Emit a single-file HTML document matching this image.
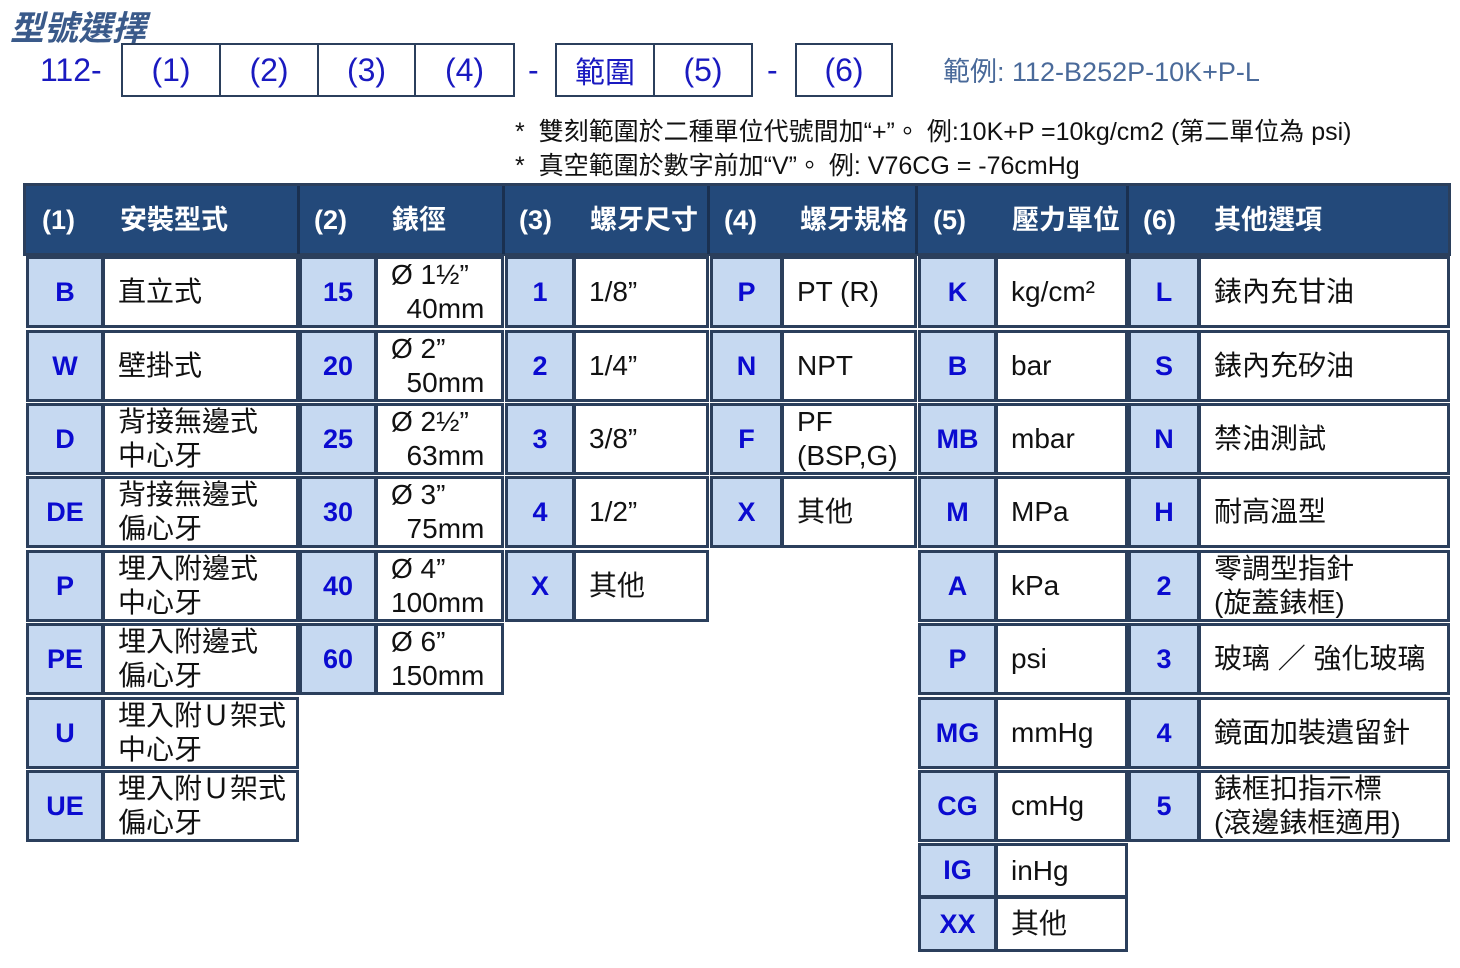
<!DOCTYPE html>
<html><head><meta charset="utf-8"><style>
body{margin:0;width:1460px;height:968px;background:#fff;position:relative;overflow:hidden;font-family:"Liberation Sans","Noto Sans CJK TC",sans-serif}
div{position:absolute;box-sizing:border-box}
.c{background:#c6d9f1;border:3px solid #2b3f5c;color:#0b0bd0;font-weight:bold;font-size:27px;display:flex;align-items:center;justify-content:center;height:72px}
.d{background:#fff;border:3px solid #2b3f5c;color:#111;font-size:28px;display:flex;align-items:center;padding-left:13px;line-height:34px;height:72px;white-space:nowrap}
.h{color:#fff;font-weight:bold;font-size:27px;top:186px;height:68px;line-height:68px}
.b{border:2px solid #2b3f5c;color:#1a1ac0;font-size:32px;display:flex;align-items:center;justify-content:center;top:43px;height:54px}
.n{font-size:25px;color:#111;left:515px;white-space:nowrap}
</style></head><body>
<div style="left:10px;top:1px;font-size:34px;font-style:italic;font-weight:bold;color:#3a5a8a">型號選擇</div>
<div style="left:40px;top:52px;font-size:32px;color:#1a1ac0">112-</div>
<div class="b" style="left:121px;width:100px">(1)</div>
<div class="b" style="left:219px;width:100px">(2)</div>
<div class="b" style="left:317px;width:99px">(3)</div>
<div class="b" style="left:414px;width:101px">(4)</div>
<div style="left:528px;top:52px;font-size:32px;color:#1a1ac0">-</div>
<div class="b" style="left:555px;width:100px;font-size:30px">範圍</div>
<div class="b" style="left:653px;width:100px">(5)</div>
<div style="left:767px;top:52px;font-size:32px;color:#1a1ac0">-</div>
<div class="b" style="left:795px;width:98px">(6)</div>
<div style="left:943px;top:50px;font-size:27px;color:#4a6a9a;white-space:nowrap">範例: 112-B252P-10K+P-L</div>
<div class="n" style="top:112px">*&nbsp; 雙刻範圍於二種單位代號間加“+”。 例:10K+P =10kg/cm2 (第二單位為 psi)</div>
<div class="n" style="top:146px">*&nbsp; 真空範圍於數字前加“V”。 例: V76CG = -76cmHg</div>

<div style="left:23px;top:183px;width:1428px;height:73px;background:#23497a;border:3px solid #2b3f5c"></div>
<div style="left:297px;top:186px;width:3px;height:68px;background:#1a3050"></div>
<div style="left:502px;top:186px;width:3px;height:68px;background:#1a3050"></div>
<div style="left:707px;top:186px;width:3px;height:68px;background:#1a3050"></div>
<div style="left:915px;top:186px;width:3px;height:68px;background:#1a3050"></div>
<div style="left:1126px;top:186px;width:3px;height:68px;background:#1a3050"></div>
<div class="h" style="left:42px">(1)</div><div class="h" style="left:120px">安裝型式</div>
<div class="h" style="left:314px">(2)</div><div class="h" style="left:392px">錶徑</div>
<div class="h" style="left:519px">(3)</div><div class="h" style="left:590px">螺牙尺寸</div>
<div class="h" style="left:724px">(4)</div><div class="h" style="left:800px">螺牙規格</div>
<div class="h" style="left:933px">(5)</div><div class="h" style="left:1012px">壓力單位</div>
<div class="h" style="left:1143px">(6)</div><div class="h" style="left:1214px">其他選項</div>

<!-- group1 -->
<div class="c" style="left:26px;top:256px;width:78px">B</div><div class="d" style="left:102px;top:256px;width:197px">直立式</div>
<div class="c" style="left:26px;top:330px;width:78px">W</div><div class="d" style="left:102px;top:330px;width:197px">壁掛式</div>
<div class="c" style="left:26px;top:403px;width:78px">D</div><div class="d" style="left:102px;top:403px;width:197px">背接無邊式<br>中心牙</div>
<div class="c" style="left:26px;top:476px;width:78px">DE</div><div class="d" style="left:102px;top:476px;width:197px">背接無邊式<br>偏心牙</div>
<div class="c" style="left:26px;top:550px;width:78px">P</div><div class="d" style="left:102px;top:550px;width:197px">埋入附邊式<br>中心牙</div>
<div class="c" style="left:26px;top:623px;width:78px">PE</div><div class="d" style="left:102px;top:623px;width:197px">埋入附邊式<br>偏心牙</div>
<div class="c" style="left:26px;top:697px;width:78px">U</div><div class="d" style="left:102px;top:697px;width:197px">埋入附Ｕ架式<br>中心牙</div>
<div class="c" style="left:26px;top:770px;width:78px">UE</div><div class="d" style="left:102px;top:770px;width:197px">埋入附Ｕ架式<br>偏心牙</div>
<!-- group2 -->
<div class="c" style="left:299px;top:256px;width:78px">15</div><div class="d" style="left:375px;top:256px;width:129px">Ø 1½”<br>&nbsp;&nbsp;40mm</div>
<div class="c" style="left:299px;top:330px;width:78px">20</div><div class="d" style="left:375px;top:330px;width:129px">Ø 2”<br>&nbsp;&nbsp;50mm</div>
<div class="c" style="left:299px;top:403px;width:78px">25</div><div class="d" style="left:375px;top:403px;width:129px">Ø 2½”<br>&nbsp;&nbsp;63mm</div>
<div class="c" style="left:299px;top:476px;width:78px">30</div><div class="d" style="left:375px;top:476px;width:129px">Ø 3”<br>&nbsp;&nbsp;75mm</div>
<div class="c" style="left:299px;top:550px;width:78px">40</div><div class="d" style="left:375px;top:550px;width:129px">Ø 4”<br>100mm</div>
<div class="c" style="left:299px;top:623px;width:78px">60</div><div class="d" style="left:375px;top:623px;width:129px">Ø 6”<br>150mm</div>
<!-- group3 -->
<div class="c" style="left:505px;top:256px;width:70px">1</div><div class="d" style="left:573px;top:256px;width:136px">1/8”</div>
<div class="c" style="left:505px;top:330px;width:70px">2</div><div class="d" style="left:573px;top:330px;width:136px">1/4”</div>
<div class="c" style="left:505px;top:403px;width:70px">3</div><div class="d" style="left:573px;top:403px;width:136px">3/8”</div>
<div class="c" style="left:505px;top:476px;width:70px">4</div><div class="d" style="left:573px;top:476px;width:136px">1/2”</div>
<div class="c" style="left:505px;top:550px;width:70px">X</div><div class="d" style="left:573px;top:550px;width:136px">其他</div>
<!-- group4 -->
<div class="c" style="left:710px;top:256px;width:73px">P</div><div class="d" style="left:781px;top:256px;width:136px">PT (R)</div>
<div class="c" style="left:710px;top:330px;width:73px">N</div><div class="d" style="left:781px;top:330px;width:136px">NPT</div>
<div class="c" style="left:710px;top:403px;width:73px">F</div><div class="d" style="left:781px;top:403px;width:136px">PF<br>(BSP,G)</div>
<div class="c" style="left:710px;top:476px;width:73px">X</div><div class="d" style="left:781px;top:476px;width:136px">其他</div>
<!-- group5 -->
<div class="c" style="left:918px;top:256px;width:79px">K</div><div class="d" style="left:995px;top:256px;width:133px">kg/cm²</div>
<div class="c" style="left:918px;top:330px;width:79px">B</div><div class="d" style="left:995px;top:330px;width:133px">bar</div>
<div class="c" style="left:918px;top:403px;width:79px">MB</div><div class="d" style="left:995px;top:403px;width:133px">mbar</div>
<div class="c" style="left:918px;top:476px;width:79px">M</div><div class="d" style="left:995px;top:476px;width:133px">MPa</div>
<div class="c" style="left:918px;top:550px;width:79px">A</div><div class="d" style="left:995px;top:550px;width:133px">kPa</div>
<div class="c" style="left:918px;top:623px;width:79px">P</div><div class="d" style="left:995px;top:623px;width:133px">psi</div>
<div class="c" style="left:918px;top:697px;width:79px">MG</div><div class="d" style="left:995px;top:697px;width:133px">mmHg</div>
<div class="c" style="left:918px;top:770px;width:79px">CG</div><div class="d" style="left:995px;top:770px;width:133px">cmHg</div>
<div class="c" style="left:918px;top:843px;width:79px;height:55px">IG</div><div class="d" style="left:995px;top:843px;width:133px;height:55px">inHg</div>
<div class="c" style="left:918px;top:896px;width:79px;height:56px">XX</div><div class="d" style="left:995px;top:896px;width:133px;height:56px">其他</div>
<!-- group6 -->
<div class="c" style="left:1128px;top:256px;width:72px">L</div><div class="d" style="left:1198px;top:256px;width:252px">錶內充甘油</div>
<div class="c" style="left:1128px;top:330px;width:72px">S</div><div class="d" style="left:1198px;top:330px;width:252px">錶內充矽油</div>
<div class="c" style="left:1128px;top:403px;width:72px">N</div><div class="d" style="left:1198px;top:403px;width:252px">禁油測試</div>
<div class="c" style="left:1128px;top:476px;width:72px">H</div><div class="d" style="left:1198px;top:476px;width:252px">耐高溫型</div>
<div class="c" style="left:1128px;top:550px;width:72px">2</div><div class="d" style="left:1198px;top:550px;width:252px">零調型指針<br>(旋蓋錶框)</div>
<div class="c" style="left:1128px;top:623px;width:72px">3</div><div class="d" style="left:1198px;top:623px;width:252px">玻璃 ／ 強化玻璃</div>
<div class="c" style="left:1128px;top:697px;width:72px">4</div><div class="d" style="left:1198px;top:697px;width:252px">鏡面加裝遺留針</div>
<div class="c" style="left:1128px;top:770px;width:72px">5</div><div class="d" style="left:1198px;top:770px;width:252px">錶框扣指示標<br>(滾邊錶框適用)</div>
</body></html>
